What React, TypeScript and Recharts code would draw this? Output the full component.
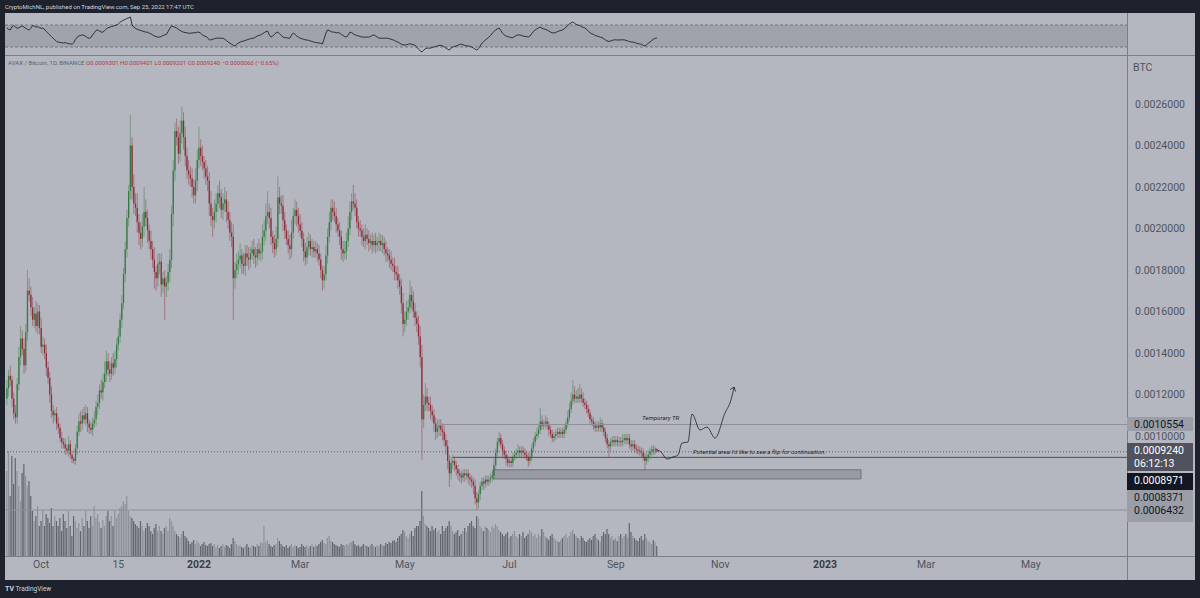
import {
  ComposedChart,
  LineChart,
  Line,
  Bar,
  XAxis,
  YAxis,
  ReferenceLine,
  ReferenceArea,
} from "recharts";

// prices in micro-BTC (1e-6), one candle per day, first candle = 2021-09-11
const FIRST_DAY = -112; // days relative to 2022-01-01
const firstOpen = 1180;

const closes = [
  1230, 1290, 1270, 1180, 1110, 1090, 1250, 1380, 1470, 1420,
  1340, 1500, 1700, 1680, 1620, 1560, 1590, 1530, 1600, 1520,
  1430, 1440, 1400, 1330, 1280, 1200, 1120, 1100, 1110, 1060,
  1040, 990, 970, 960, 940, 930, 960, 910, 890, 880,
  940, 1020, 1070, 1060, 1100, 1080, 1110, 1060, 1040, 1030,
  1060, 1080, 1140, 1160, 1220, 1210, 1260, 1300, 1360, 1320,
  1300, 1350, 1330, 1370, 1440, 1480, 1560, 1640, 1780, 1900,
  2050, 2180, 2400, 2200, 2120, 2100, 2030, 1980, 1950, 2010,
  2080, 2050, 1990, 1940, 1900, 1850, 1790, 1760, 1830, 1840,
  1730, 1760, 1720, 1740, 1790, 1850, 2070, 2280, 2470, 2440,
  2360, 2460, 2520, 2440, 2350, 2280, 2260, 2240, 2200, 2160,
  2230, 2330, 2390, 2350, 2320, 2290, 2250, 2230, 2120, 2060,
  2040, 2080, 2120, 2170, 2150, 2090, 2120, 2140, 2080, 2040,
  1980, 1960, 1760, 1800, 1830, 1850, 1870, 1830, 1820, 1880,
  1860, 1850, 1880, 1900, 1870, 1860, 1900, 1880, 1890, 1960,
  1990, 2060, 2080, 2050, 1960, 1930, 1900, 1950, 2150, 2120,
  2110, 2040, 1990, 1950, 1920, 1900, 1980, 2060, 2090, 2060,
  2020, 1990, 1950, 1890, 1860, 1910, 1940, 1900, 1910, 1890,
  1900, 1880, 1850, 1800, 1750, 1780, 1870, 1960, 2030, 2100,
  2080, 2060, 2020, 1990, 1960, 1900, 1880, 1890, 1940, 2000,
  2080, 2130, 2120, 2100, 2030, 2000, 1990, 1960, 1940, 1970,
  1950, 1930, 1940, 1920, 1940, 1920, 1930, 1940, 1920, 1930,
  1900, 1880, 1870, 1850, 1830, 1820, 1790, 1780, 1750, 1720,
  1640, 1540, 1560, 1600, 1620, 1680, 1650, 1600, 1570, 1540,
  1480, 1380, 1080, 1150, 1190, 1160, 1150, 1120, 1100, 1060,
  1020, 1040, 1050, 1030, 1020, 980, 950, 880, 820, 870,
  880, 860, 840, 820, 810, 800, 820, 810, 820, 800,
  790, 780, 760, 700, 680, 720, 760, 780, 770, 790,
  780, 790, 800, 810, 860, 920, 970, 990, 960, 930,
  910, 890, 870, 880, 870, 900, 910, 920, 930, 920,
  930, 920, 910, 900, 880, 900, 940, 970, 1000, 1010,
  1030, 1070, 1050, 1060, 1070, 1050, 1030, 1010, 990, 1000,
  1010, 1020, 1010, 1020, 1010, 1030, 1060, 1090, 1130, 1170,
  1200, 1180, 1190, 1180, 1200, 1180, 1160, 1150, 1130, 1110,
  1080, 1070, 1050, 1040, 1050, 1040, 1060, 1040, 1020, 990,
  960, 950, 970, 980, 970, 980, 970, 975, 970, 980,
  990, 980, 990, 960, 950, 960, 940, 935, 930, 925,
  920, 900, 880, 895, 910, 925, 935, 930, 930.1, 924,
];

// wick length above max(open, close)
const upWicks = [
  40, 30, 50, 20, 30, 40, 30, 50, 60, 40,
  50, 40, 100, 60, 40, 50, 30, 60, 40, 30,
  50, 40, 30, 40, 30, 30, 40, 30, 20, 30,
  30, 20, 30, 20, 30, 20, 40, 20, 20, 10,
  20, 30, 40, 50, 30, 40, 40, 30, 20, 30,
  30, 40, 30, 40, 30, 50, 40, 60, 50, 40,
  40, 30, 50, 40, 30, 40, 30, 40, 30, 40,
  40, 30, 147, 40, 60, 50, 70, 40, 50, 60,
  120, 60, 40, 30, 50, 40, 60, 30, 50, 40,
  40, 30, 40, 30, 40, 50, 40, 50, 40, 60,
  50, 60, 66, 40, 50, 40, 50, 40, 50, 40,
  60, 50, 100, 40, 50, 30, 40, 50, 40, 60,
  40, 60, 50, 40, 60, 40, 50, 60, 40, 50,
  40, 50, 60, 40, 50, 40, 60, 30, 50, 40,
  40, 50, 30, 40, 50, 40, 30, 50, 40, 60,
  50, 60, 100, 40, 50, 30, 40, 60, 100, 50,
  40, 50, 40, 30, 40, 50, 60, 40, 50, 40,
  40, 50, 40, 30, 40, 50, 40, 30, 40, 30,
  40, 30, 40, 30, 20, 40, 50, 40, 50, 40,
  40, 50, 40, 30, 40, 30, 40, 50, 40, 60,
  50, 40, 80, 50, 40, 30, 40, 30, 40, 50,
  30, 40, 30, 40, 30, 40, 30, 40, 30, 40,
  30, 40, 30, 30, 40, 30, 40, 30, 40, 30,
  40, 50, 40, 50, 40, 70, 40, 50, 40, 30,
  40, 50, 60, 50, 65, 40, 30, 40, 30, 30,
  30, 40, 30, 30, 30, 30, 30, 30, 30, 30,
  30, 20, 20, 20, 20, 20, 20, 20, 20, 20,
  20, 20, 20, 30, 30, 20, 20, 20, 20, 20,
  20, 20, 20, 20, 30, 20, 20, 30, 20, 20,
  20, 20, 20, 20, 20, 20, 20, 20, 30, 20,
  20, 20, 20, 20, 20, 20, 20, 20, 20, 30,
  30, 65, 30, 20, 30, 20, 20, 20, 20, 20,
  20, 20, 20, 20, 20, 20, 20, 30, 30, 40,
  70, 40, 30, 40, 50, 30, 30, 20, 20, 20,
  20, 20, 20, 20, 20, 20, 30, 20, 20, 20,
  20, 20, 20, 20, 20, 20, 20, 20, 20, 30,
  20, 20, 20, 20, 20, 20, 20, 20, 20, 20,
  20, 20, 20, 20, 20, 20, 20, 20, 20, 10,
];

// wick length below min(open, close)
const downWicks = [
  30, 40, 30, 40, 30, 30, 30, 30, 40, 30,
  40, 30, 40, 30, 40, 30, 40, 30, 40, 30,
  30, 40, 30, 40, 30, 40, 30, 40, 30, 30,
  30, 20, 30, 20, 30, 20, 30, 20, 20, 15,
  20, 30, 20, 40, 30, 20, 30, 40, 30, 20,
  30, 20, 30, 40, 30, 30, 40, 30, 40, 30,
  40, 30, 40, 30, 40, 30, 30, 40, 30, 40,
  40, 40, 40, 60, 50, 40, 50, 60, 50, 40,
  50, 40, 60, 40, 50, 40, 80, 60, 40, 50,
  60, 40, 160, 50, 40, 50, 40, 60, 50, 40,
  50, 40, 50, 60, 50, 40, 50, 40, 50, 40,
  40, 50, 40, 50, 40, 50, 40, 50, 60, 50,
  80, 40, 50, 40, 50, 40, 50, 40, 50, 40,
  40, 50, 200, 50, 40, 50, 40, 50, 40, 50,
  40, 50, 40, 30, 40, 50, 40, 30, 40, 40,
  40, 50, 40, 50, 40, 50, 40, 30, 40, 50,
  40, 50, 40, 30, 40, 50, 40, 30, 40, 50,
  40, 30, 40, 50, 40, 30, 40, 30, 40, 30,
  30, 40, 30, 40, 50, 40, 30, 40, 30, 40,
  40, 30, 40, 30, 40, 50, 40, 30, 40, 30,
  30, 40, 30, 40, 30, 40, 30, 40, 30, 40,
  30, 40, 30, 40, 30, 40, 30, 40, 30, 40,
  30, 40, 30, 40, 30, 30, 40, 30, 40, 40,
  50, 60, 40, 30, 40, 30, 40, 30, 40, 40,
  40, 50, 195, 40, 30, 40, 30, 40, 30, 40,
  40, 30, 40, 30, 40, 30, 40, 40, 66, 30,
  30, 30, 30, 30, 30, 30, 20, 30, 20, 30,
  30, 30, 40, 30, 37, 30, 30, 20, 30, 20,
  20, 20, 20, 20, 20, 20, 20, 20, 20, 30,
  20, 30, 20, 20, 20, 20, 20, 20, 20, 20,
  20, 20, 20, 20, 30, 20, 20, 20, 20, 20,
  20, 20, 20, 20, 20, 20, 30, 20, 20, 20,
  20, 20, 20, 20, 20, 20, 20, 20, 20, 20,
  20, 20, 20, 20, 20, 20, 20, 20, 20, 20,
  20, 20, 20, 20, 20, 20, 20, 20, 20, 20,
  20, 50, 20, 20, 20, 20, 20, 20, 20, 20,
  20, 20, 20, 20, 20, 20, 20, 20, 20, 20,
  20, 20, 44, 20, 20, 20, 20, 20, 20, 3.9,
];

const volumes = [
  85, 105, 60, 100, 72, 98, 85, 70, 55, 83,
  92, 80, 70, 75, 60, 45, 35, 40, 50, 30,
  35, 45, 30, 42, 38, 33, 48, 30, 40, 35,
  30, 38, 25, 42, 35, 28, 45, 30, 20, 40,
  35, 28, 33, 25, 38, 30, 45, 35, 28, 40,
  30, 50, 38, 42, 34, 28, 36, 30, 40, 45,
  35, 40, 30, 45, 38, 42, 48, 50, 55, 52,
  60, 45, 40, 38, 35, 32, 30, 28, 35, 30,
  25, 28, 33, 30, 25, 22, 28, 32, 25, 30,
  25, 22, 28, 30, 25, 38, 35, 30, 25, 22,
  20, 18, 22, 25, 20, 18, 15, 12, 14, 16,
  12, 15, 13, 10, 12, 14, 11, 10, 12, 13,
  10, 12, 9, 11, 8, 10, 12, 9, 11, 10,
  8, 12, 18, 15, 12, 10, 11, 9, 8, 10,
  12, 9, 8, 11, 10, 9, 12, 10, 14, 13,
  30, 14, 16, 12, 10, 9, 11, 12, 18, 15,
  12, 10, 9, 11, 8, 10, 12, 9, 11, 10,
  8, 9, 12, 10, 9, 11, 8, 10, 12, 9,
  11, 10, 12, 14, 16, 13, 12, 18, 20, 15,
  14, 12, 11, 10, 9, 12, 11, 10, 12, 11,
  13, 14, 15, 12, 10, 11, 9, 10, 12, 11,
  10, 9, 11, 12, 10, 9, 11, 10, 12, 11,
  10, 13, 12, 14, 13, 15, 16, 14, 18, 20,
  22, 26, 24, 20, 18, 22, 25, 20, 28, 30,
  30, 35, 65, 40, 32, 30, 28, 25, 30, 26,
  28, 24, 26, 22, 30, 25, 28, 30, 35, 30,
  25, 22, 24, 26, 20, 22, 25, 28, 24, 30,
  33, 35, 30, 28, 40, 38, 30, 28, 25, 30,
  28, 26, 24, 30, 28, 32, 30, 26, 24, 22,
  20, 22, 24, 18, 20, 22, 25, 20, 18, 22,
  20, 24, 18, 20, 22, 26, 24, 20, 22, 18,
  22, 20, 27, 24, 20, 18, 16, 20, 22, 18,
  16, 15, 14, 16, 18, 20, 22, 18, 20, 24,
  26, 22, 20, 18, 16, 20, 18, 15, 14, 16,
  18, 16, 20, 22, 18, 16, 14, 20, 24, 22,
  27, 22, 18, 20, 16, 18, 15, 20, 22, 18,
  20, 22, 18, 33, 24, 20, 18, 16, 15, 18,
  20, 16, 22, 18, 15, 14, 12, 16, 14, 10,
];

// oscillator in the top pane
const rsiValues = [
  65, 62, 61, 67, 69, 66, 64, 65, 67, 68,
  66, 64, 62, 61, 64, 69, 68, 66, 67, 65,
  64, 64, 62, 58, 55, 52, 49, 46, 43, 40,
  39, 38, 38, 37, 38, 37, 36, 36, 35, 38,
  44, 48, 50, 51, 52, 51, 49, 47, 46, 47,
  52, 56, 60, 61, 59, 57, 57, 60, 63, 65,
  66, 67, 68, 69, 70, 72, 75, 77, 79, 80,
  82, 83, 84.5, 70, 66, 64, 62, 61, 60, 59,
  58, 57, 57, 55, 54, 52, 50, 49, 48, 48,
  49, 51, 52, 53, 58, 64, 68, 67, 66, 64.5,
  62, 60, 58, 57, 56, 56, 55, 55, 55.5, 56,
  56, 57, 57, 55, 52, 50, 49, 47, 43, 43,
  44, 45, 46, 46, 46, 46, 46, 44, 42, 39,
  37, 35, 33, 32, 35, 37, 39, 40, 41, 42,
  43, 44, 45, 46, 46, 48, 50, 51, 52, 54,
  56, 58, 59, 52, 48, 50, 53, 56, 57, 54,
  51, 48, 47, 47, 46, 46, 52, 55.5, 53, 50,
  48, 46, 45, 44, 43, 42.7, 42, 41, 40, 39,
  38, 38, 37, 37, 35.5, 45, 55, 61, 60, 58,
  57, 57, 56, 56, 55.5, 53, 51, 49, 48, 52,
  57, 56, 54, 52, 51, 50, 49, 48, 48, 48,
  48, 48, 49, 51, 52, 50, 48, 46, 46, 46,
  46, 46, 46, 45, 44, 43, 42, 40, 39, 37,
  35, 34, 33.6, 34, 35, 36, 35, 34, 33, 30,
  26, 23, 21, 24, 27, 28, 28, 28, 29, 30,
  31, 32, 33, 33, 32, 30, 28, 26, 24.5, 28,
  30, 31, 32, 33, 35, 35, 34, 33, 32, 32,
  31, 30, 28, 26, 24.5, 27, 32, 37, 40, 42.7,
  45, 48, 51, 55, 58, 61, 63, 64.5, 60, 55,
  52, 50, 49, 48, 47, 47, 49, 51, 52, 52,
  51, 50, 49, 49, 48, 50, 54, 58, 61, 63,
  65, 66, 64, 63, 62, 61, 59, 57, 56, 55.5,
  56, 58, 59, 60, 61, 63, 66, 69, 72, 74,
  75.5, 73, 71, 70, 69, 67, 66, 64.5, 62, 59,
  56, 54, 53, 51, 50, 49, 48, 47, 45, 43,
  41, 40, 41, 42, 43, 43, 42.7, 42.7, 43, 43,
  43, 42, 41, 40, 39, 39, 38, 37, 36, 35.5,
  35, 33, 31.8, 34, 37, 39, 42, 44, 46, 46,
];

const tickDays = [-92, -47, 0, 59, 120, 181, 243, 304, 365, 424, 485];
const tickLabels = ["Oct", "15", "2022", "Mar", "May", "Jul", "Sep", "Nov", "2023", "Mar", "May"];
const priceTicks = [1000, 1200, 1400, 1600, 1800, 2000, 2200, 2400, 2600];

// hand-drawn projection after the last candle
const forecastDays = [265.9, 269.4, 272.9, 276.4, 279.3, 281.6, 285.1, 287.5, 292.1, 296.2, 300.9, 306.7, 310.2, 312];
const forecastPrices = [937, 923, 889, 899, 908, 966, 971, 1106, 1029, 1043, 990, 1111, 1174, 1236];

const X_DOMAIN: [number, number] = [-113.1, 541.1];
const GREEN = "#367a40";
const RED = "#8e2c3a";
const FONT = "Roboto, sans-serif";

const candles = closes.map((c, i) => {
  const o = i === 0 ? firstOpen : closes[i - 1];
  const h = Math.max(o, c) + upWicks[i];
  const l = Math.min(o, c) - downWicks[i];
  return { d: FIRST_DAY + i, o, c, h, l, range: [l, h], vol: volumes[i] };
});

const rsiData = candles.map((k, i) => ({ d: k.d, rsi: rsiValues[i] }));
const forecast = forecastDays.map((d, i) => ({ d, p: forecastPrices[i] }));

const fmt = (v: number) => (v / 1e6).toFixed(7);

function Candle(props: any) {
  const { x, y, width, height, payload } = props;
  if (x == null || y == null || !payload) return null;
  const top = Math.min(y, y + height);
  const h = Math.abs(height);
  const { o, c } = payload;
  const span = payload.h - payload.l || 1;
  const py = (v: number) => top + ((payload.h - v) / span) * h;
  const cx = x + width / 2;
  const color = c >= o ? GREEN : RED;
  const bTop = py(Math.max(o, c));
  const bBot = py(Math.min(o, c));
  return (
    <g>
      <line x1={cx} x2={cx} y1={top} y2={top + h} stroke={color} strokeWidth={0.8} strokeOpacity={0.6} />
      <rect x={cx - 0.65} y={bTop} width={1.3} height={Math.max(bBot - bTop, 0.7)} fill={color} />
    </g>
  );
}

function VolumeBar(props: any) {
  const { x, y, width, height, payload } = props;
  if (x == null || y == null || !payload) return null;
  const cx = x + width / 2;
  const down = payload.c < payload.o;
  return (
    <rect
      x={cx - 0.6}
      y={Math.min(y, y + height)}
      width={1.2}
      height={Math.abs(height)}
      fill={down ? "#62656f" : "#8e919a"}
    />
  );
}

function ArrowTip(props: any) {
  const { cx, cy, index } = props;
  if (index !== forecast.length - 1) return <g key={index} />;
  return (
    <g key={index} stroke="#1c1f29" strokeWidth={0.8}>
      <line x1={cx} y1={cy} x2={cx - 4} y2={cy + 2.5} />
      <line x1={cx} y1={cy} x2={cx + 1.5} y2={cy + 4.5} />
    </g>
  );
}

function TimeTick(props: any) {
  const { x, y, payload } = props;
  const i = tickDays.indexOf(payload.value);
  const label = tickLabels[i] ?? "";
  const bold = label === "2022" || label === "2023";
  return (
    <text
      x={x}
      y={y + 4}
      textAnchor="middle"
      fontSize={10.5}
      fontFamily={FONT}
      fontWeight={bold ? 700 : 400}
      fill={bold ? "#3a3d47" : "#50535e"}
    >
      {label}
    </text>
  );
}

const priceBox = (top: number, height: number, bg: string, color: string, lines: string[]) => (
  <div
    style={{
      position: "absolute",
      left: 1127,
      top,
      width: 66,
      height,
      background: bg,
      color,
      fontSize: 10.5,
      fontFamily: FONT,
      lineHeight: "13px",
      paddingLeft: 7,
      boxSizing: "border-box",
      paddingTop: 1,
    }}
  >
    {lines.map((l) => (
      <div key={l}>{l}</div>
    ))}
  </div>
);

export default function App() {
  return (
    <div
      style={{
        position: "absolute",
        left: 0,
        top: 0,
        width: 1200,
        height: 598,
        background: "#1e222d",
        overflow: "hidden",
        fontFamily: FONT,
      }}
    >
      <div style={{ position: "absolute", left: 5, top: 3, fontSize: 6, color: "#d1d4dc" }}>
        CryptoMichNL, published on TradingView.com, Sep 25, 2022 17:47 UTC
      </div>

      {/* chart panel */}
      <div style={{ position: "absolute", left: 5, top: 13, width: 1190, height: 567, background: "#b4b7bf" }} />

      {/* oscillator pane */}
      <div style={{ position: "absolute", left: 5, top: 13 }}>
        <LineChart width={1122} height={42} data={rsiData} margin={{ top: 0, right: 0, bottom: 0, left: 0 }}>
          <XAxis dataKey="d" type="number" domain={X_DOMAIN} allowDataOverflow hide />
          <YAxis domain={[15.45, 91.8]} allowDataOverflow hide />
          <ReferenceArea y1={30} y2={70} fill="#9a9da6" fillOpacity={0.8} stroke="none" />
          <ReferenceLine y={70} stroke="#70737d" strokeDasharray="3 2" />
          <ReferenceLine y={30} stroke="#70737d" strokeDasharray="3 2" />
          <Line dataKey="rsi" stroke="#1f2330" strokeWidth={0.9} dot={false} isAnimationActive={false} />
        </LineChart>
      </div>

      {/* main price pane */}
      <div style={{ position: "absolute", left: 5, top: 55 }}>
        <ComposedChart width={1190} height={525} data={candles} margin={{ top: 1, right: 0, bottom: 0, left: 0 }}>
          <XAxis
            dataKey="d"
            type="number"
            domain={X_DOMAIN}
            allowDataOverflow
            ticks={tickDays}
            interval={0}
            tick={<TimeTick />}
            tickLine={false}
            axisLine={false}
            height={24}
          />
          <XAxis xAxisId="v" dataKey="d" type="number" domain={X_DOMAIN} allowDataOverflow hide />
          <YAxis
            orientation="right"
            domain={[421.7, 2831.3]}
            allowDataOverflow
            ticks={priceTicks}
            tickFormatter={fmt}
            tick={{ fontSize: 10.5, fill: "#50535e", fontFamily: FONT, textAnchor: "start" }}
            tickLine={false}
            axisLine={false}
            width={68}
          />
          <YAxis yAxisId="vol" domain={[0, 500]} allowDataOverflow hide />

          <Bar xAxisId="v" yAxisId="vol" dataKey="vol" shape={<VolumeBar />} isAnimationActive={false} />

          <ReferenceLine y={643.2} stroke="#8d9099" strokeWidth={1} />
          <ReferenceLine
            segment={[{ x: 142.3, y: 1055.4 }, { x: 541.1, y: 1055.4 }]}
            stroke="#8d9099"
            strokeWidth={1}
          />
          <ReferenceLine
            segment={[{ x: 148, y: 897.1 }, { x: 541.1, y: 897.1 }]}
            stroke="#4a4d57"
            strokeWidth={1}
          />
          <ReferenceLine y={924} stroke="#5d606b" strokeDasharray="1 2" />
          <ReferenceArea
            x1={171.4}
            x2={386}
            y1={793}
            y2={837.1}
            fill="#979aa3"
            fillOpacity={1}
            stroke="#70737d"
            strokeWidth={1}
          />

          <Bar dataKey="range" shape={<Candle />} isAnimationActive={false} />

          <Line
            data={forecast}
            dataKey="p"
            type="monotone"
            stroke="#1c1f29"
            strokeWidth={0.8}
            dot={<ArrowTip />}
            activeDot={false}
            isAnimationActive={false}
          />
        </ComposedChart>
      </div>

      {/* pane separators */}
      <div style={{ position: "absolute", left: 5, top: 55, width: 1190, height: 1, background: "#7b7e88" }} />
      <div style={{ position: "absolute", left: 1127, top: 13, width: 1, height: 567, background: "#7b7e88" }} />
      <div style={{ position: "absolute", left: 5, top: 556, width: 1190, height: 1, background: "#7b7e88" }} />

      {/* legend */}
      <div style={{ position: "absolute", left: 8, top: 59, fontSize: 6, whiteSpace: "nowrap" }}>
        <span style={{ color: "#5d606b" }}>AVAX / Bitcoin, 1D, BINANCE </span>
        <span style={{ color: "#b23a48" }}>
          {" "}O0.0009301 H0.0009401 L0.0009201 C0.0009240 −0.0000060 (−0.65%)
        </span>
      </div>
      <div style={{ position: "absolute", left: 1133, top: 61, fontSize: 10.5, color: "#50535e" }}>BTC</div>

      {/* drawing notes */}
      <div style={{ position: "absolute", left: 642, top: 414, fontSize: 6.2, fontStyle: "italic", color: "#1c1f29" }}>
        Temporary TR
      </div>
      <div
        style={{
          position: "absolute",
          left: 693,
          top: 448,
          fontSize: 6.2,
          fontStyle: "italic",
          color: "#1c1f29",
          whiteSpace: "nowrap",
        }}
      >
        Potential area I'd like to see a flip for continuation.
      </div>

      {/* price scale labels */}
      {priceBox(417, 14, "#9b9ea7", "#131722", ["0.0010554"])}
      {priceBox(443, 28, "#50535e", "#ffffff", ["0.0009240", "06:12:13"])}
      {priceBox(473, 17, "#131722", "#ffffff", ["0.0008971"])}
      {priceBox(490, 32, "#9b9ea7", "#131722", ["0.0008371", "0.0006432"])}

      <div style={{ position: "absolute", left: 5, top: 585, fontSize: 6.5, color: "#d1d4dc", whiteSpace: "nowrap" }}>
        <b style={{ fontSize: 7 }}>TV</b> TradingView
      </div>
    </div>
  );
}
